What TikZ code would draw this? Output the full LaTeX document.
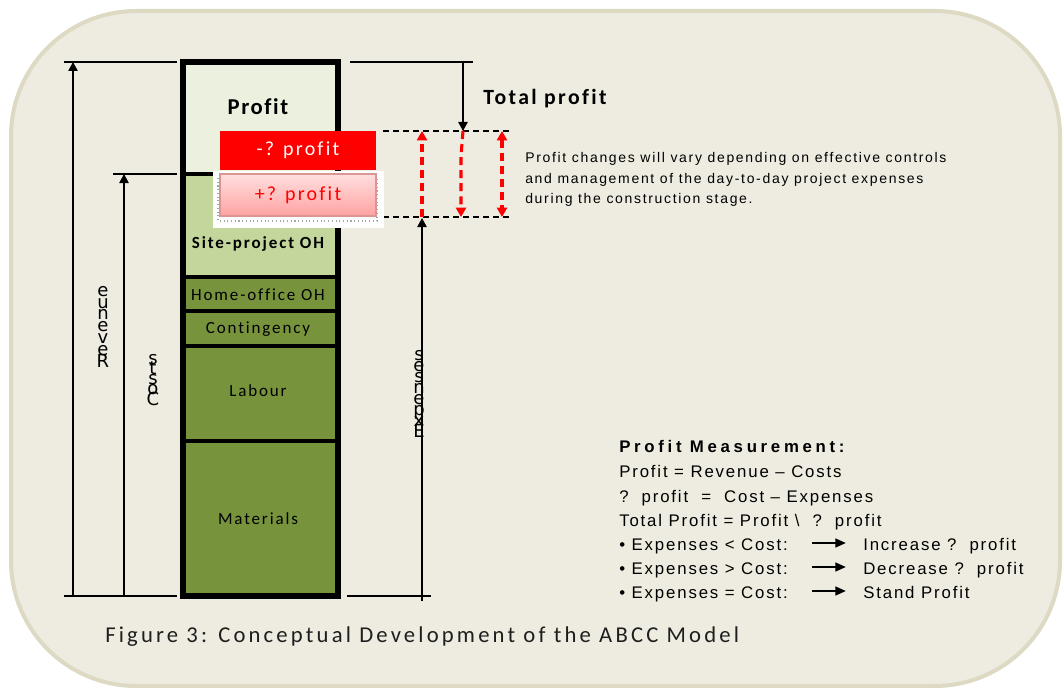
\documentclass[tikz,border=0pt]{standalone}
\usepackage{fontspec}
\usetikzlibrary{arrows.meta}
\newfontfamily\calfont[LetterSpace=11,Ligatures=NoCommon]{Carlito}
\newfontfamily\calprof[LetterSpace=7,Ligatures=NoCommon]{Carlito}
\newfontfamily\capfont[LetterSpace=14,Ligatures=NoCommon]{Carlito}
\newfontfamily\arlfont[LetterSpace=11]{Liberation Sans}
\newfontfamily\parfont[LetterSpace=12]{Liberation Sans}
\newfontfamily\arlbold[LetterSpace=22]{Liberation Sans Bold}
\newfontfamily\vertfont{DejaVu Sans}
\definecolor{bgfill}{HTML}{EEECE1}
\definecolor{bgline}{HTML}{DDD9C3}
\definecolor{pfill}{HTML}{EBF1DE}
\definecolor{sfill}{HTML}{C3D69B}
\definecolor{dfill}{HTML}{77933C}
\definecolor{pinkline}{HTML}{D99694}
\definecolor{pinktop}{HTML}{FFDEDE}
\definecolor{pinkbot}{HTML}{FFA2A2}
\definecolor{capgray}{HTML}{1E1E1E}
\begin{document}
\begin{tikzpicture}[x=0.75pt,y=-0.75pt,
  dimarrow/.style={line width=1.1pt,-{Triangle[length=6.75pt,width=7pt]}},
  dimline/.style={line width=1.1pt},
  bdash/.style={line width=1.1pt,dash pattern=on 4.5pt off 3pt},
  rdash/.style={red,line width=2.3pt,dash pattern=on 6pt off 3.8pt},
  rtip/.style={-{Triangle[length=7pt,width=7.5pt]}},
  rtips/.style={{Triangle[length=7pt,width=7.5pt]}-{Triangle[length=7pt,width=7.5pt]}},
  divider/.style={line width=3.5pt},
  stacklbl/.style={inner sep=0pt,anchor=base,font=\calfont\fontsize{12.75}{15}\selectfont},
  vletter/.style={inner sep=0pt,anchor=base,font=\vertfont\fontsize{13.5}{15}\selectfont},
  paratext/.style={inner sep=0pt,anchor=base west,font=\parfont\fontsize{10.5}{12}\selectfont},
  meastext/.style={inner sep=0pt,anchor=base west,font=\arlfont\fontsize{12.6}{15}\selectfont},
  marrow/.style={line width=1.8pt,-{Triangle[length=8pt,width=6.5pt]}},
  profbox/.style={inner sep=0pt,minimum width=117pt,font=\calfont\fontsize{15}{18}\selectfont},
]
\useasboundingbox (0,0) rectangle (1063,688);
\fill[white] (0,0) rectangle (1063,688);
% background panel
\draw[bgline,fill=bgfill,line width=3pt,rounded corners=94pt] (11,11) rectangle (1060,686);

% stack sections
\fill[pfill] (183,62) rectangle (338,174);
\fill[sfill] (183,174) rectangle (338,277);
\fill[dfill] (183,277) rectangle (338,596);
\foreach \yy in {174,277,311,346,441} \draw[divider] (183,\yy) -- (341,\yy);
\draw[line width=4.5pt] (183,62) rectangle (338,596);

% left dimension lines
\coordinate (revT) at (73,62);
\coordinate (revB) at (73,596);
\coordinate (cosT) at (124,174);
\coordinate (cosB) at (124,596);
\draw[dimline] (64,62) -- (177,62);
\draw[dimline] (113,174) -- (177,174);
\draw[dimline] (64,596) -- (177,596);
\draw[dimarrow] (revB) -- (revT);
\draw[dimarrow] (cosB) -- (cosT);

% right dimension lines
\coordinate (expT) at (422,218);
\coordinate (expB) at (422,601);
\draw[dimline] (347,596) -- (431,596);
\draw[dimarrow] (expB) -- (expT);
\coordinate (totT) at (463,62);
\coordinate (totB) at (463,131);
\draw[dimline] (350,62) -- (473,62);
\draw[dimarrow] (totT) -- (totB);

% dashed reference lines
\draw[bdash] (383,131) -- (511,131);
\draw[bdash] (383,217) -- (511,217);

% red dashed arrows
\coordinate (ra1) at (422,217);
\coordinate (ra2) at (422,131);
\coordinate (rb1) at (463,131);
\coordinate (rbk) at (461,156);
\coordinate (rb2) at (461,217);
\coordinate (rc1) at (502,131);
\coordinate (rc2) at (502,217);
\draw[rdash,rtip] (ra1) -- (ra2);
\draw[rdash,rtip] (rb1) -- (rbk) -- (rb2);
\draw[rdash,rtips] (rc1) -- (rc2);

% profit boxes
\node[profbox,fill=red,text=white,minimum height=29.25pt] (minusbox) at (298,150.5) {-? profit};
\fill[white] (213,171) rectangle (384,228);
\draw[gray!70,line width=0.8pt,dotted] (218,178) -- (218,221) -- (377,221) -- (377,178);
\node[profbox,draw=pinkline,line width=1.5pt,top color=pinktop,bottom color=pinkbot,text=red,minimum height=31.5pt] (plusbox) at (298,195) {+? profit};

% stack labels
\node[stacklbl,font=\calprof\bfseries\fontsize{17}{20}\selectfont] (lprofit) at (258,115) {Profit};
\node[stacklbl,font=\calfont\bfseries\fontsize{12.75}{15}\selectfont] (lsite) at (258,248) {Site-project OH};
\node[stacklbl] (lhome) at (258,300) {Home-office OH};
\node[stacklbl] (lcont) at (258,333) {Contingency};
\node[stacklbl] (llab) at (258,396) {Labour};
\node[stacklbl] (lmat) at (258,524) {Materials};

% vertical stacked labels
\foreach \ch [count=\i from 0] in {R,e,v,e,n,u,e}
  \node[vletter] (rev\i) at (103,367-11.8*\i) {\ch};
\foreach \ch [count=\i from 0] in {C,o,s,t,s}
  \node[vletter] (cos\i) at (153,405-10.25*\i) {\ch};
\foreach \ch [count=\i from 0] in {E,x,p,e,n,s,e,s}
  \node[vletter] (exp\i) at (419,437-10.9*\i) {\ch};

% total profit
\node[inner sep=0pt,anchor=base west,font=\calfont\bfseries\fontsize{16.3}{19}\selectfont] (ltot) at (483,105) {Total profit};

% paragraph
\node[paratext] (p1) at (525,162) {Profit changes will vary depending on effective controls};
\node[paratext] (p2) at (525,183) {and management of the day-to-day project expenses};
\node[paratext] (p3) at (525,203) {during the construction stage.};

% profit measurement
\node[meastext,font=\arlbold\fontsize{12.6}{15}\selectfont] (m0) at (619,452) {Profit Measurement:};
\node[meastext] (m1) at (619,477) {Profit = Revenue – Costs};
\node[meastext] (m2) at (619,502) {?\ \ profit\ \ =\ \ Cost – Expenses};
\node[meastext] (m3) at (619,526) {Total Profit = Profit \textbackslash\ \ ?\ \ profit};
\node[meastext] (m4) at (619,550) {• Expenses < Cost:};
\node[meastext] (m5) at (619,574) {• Expenses > Cost:};
\node[meastext] (m6) at (619,598) {• Expenses = Cost:};
\node[meastext] (r4) at (863,550) {Increase ?\ \ profit};
\node[meastext] (r5) at (863,574) {Decrease ?\ \ profit};
\node[meastext] (r6) at (863,598) {Stand Profit};
\foreach \k/\yy in {4/543,5/567,6/591} {
  \coordinate (as\k) at (812,\yy);
  \coordinate (ae\k) at (846,\yy);
  \draw[marrow] (as\k) -- (ae\k);
}

% caption
\node[inner sep=0pt,anchor=base west,text=capgray,font=\capfont\fontsize{17}{20}\selectfont] (cap) at (105,642) {Figure 3: Conceptual Development of the ABCC Model};
\end{tikzpicture}
\end{document}
